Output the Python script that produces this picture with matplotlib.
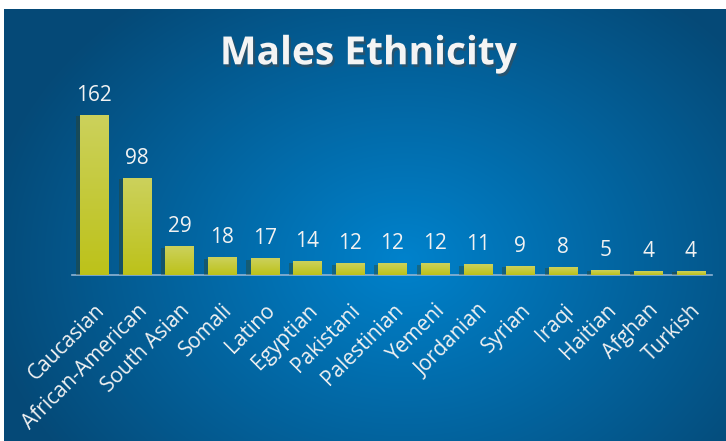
import numpy as np
import matplotlib.pyplot as plt
import matplotlib.patheffects as pe

categories = ["Caucasian", "African-American", "South Asian", "Somali", "Latino",
              "Egyptian", "Pakistani", "Palestinian", "Yemeni", "Jordanian",
              "Syrian", "Iraqi", "Haitian", "Afghan", "Turkish"]
counts = [162, 98, 29, 18, 17, 14, 12, 12, 12, 11, 9, 8, 5, 4, 4]

plt.rcParams['font.family'] = ['Open Sans', 'DejaVu Sans']

fig = plt.figure(figsize=(7.26, 4.41), dpi=100)
fig.patch.set_facecolor("white")

# radial blue background
bg = fig.add_axes([4 / 726, 0, 722 / 726, 432 / 441])
bg.set_axis_off()
yy, xx = np.mgrid[0:432, 0:722]
r = np.sqrt(((xx - 400) / 420) ** 2 + ((yy - 250) / 330) ** 2)
r = np.clip(r, 0, 1)
c_in = np.array([0.0, 0.51, 0.80])
c_out = np.array([0.02, 0.29, 0.47])
img = c_in[None, None, :] * (1 - r[..., None]) + c_out[None, None, :] * r[..., None]
bg.imshow(img, aspect="auto", extent=[0, 1, 0, 1])
bg.set_xlim(0, 1)
bg.set_ylim(0, 1)

ax = fig.add_axes([72 / 726, 166 / 441, 640 / 726, 178 / 441])
ax.patch.set_alpha(0)
x = np.arange(len(categories))
bars = ax.bar(x, counts, width=0.66, color="#c5cb2b", zorder=3)

# vertical gradient inside bars
grad = np.linspace(0, 1, 100)[:, None]
top = np.array([0.80, 0.82, 0.36])
bot = np.array([0.74, 0.76, 0.10])
gimg = top[None, None, :] * grad[..., None] + bot[None, None, :] * (1 - grad[..., None])
for b in bars:
    b.set_path_effects([pe.SimplePatchShadow(offset=(-3, -1), alpha=0.35), pe.Normal()])
    im = ax.imshow(gimg, extent=[b.get_x(), b.get_x() + b.get_width(), 0, b.get_height()],
                   aspect="auto", origin="lower", zorder=4)
    im.set_clip_path(b)

for xi, v in zip(x, counts):
    ax.text(xi, v + 9, str(v), ha="center", va="bottom", color="#f2f2f2", fontsize=15)

ax.set_xlim(-0.52, 14.5)
ax.set_ylim(0, 180)
for s in ["top", "right", "left"]:
    ax.spines[s].set_visible(False)
ax.spines["bottom"].set_color("#8fb3d3")
ax.spines["bottom"].set_linewidth(1.2)
ax.set_yticks([])
ax.set_xticks(x)
ax.set_xticklabels(categories, rotation=45, ha="right", rotation_mode="anchor",
                   color="#f2f2f2", fontsize=15)
ax.tick_params(axis="x", length=0, pad=18)

fig.text(0.507, 0.878, "Males Ethnicity", ha="center", va="center", color="#f4f4f4",
         fontsize=28, fontweight="bold",
         path_effects=[pe.SimplePatchShadow(offset=(1.5, -2), alpha=0.5), pe.Normal()])

fig.savefig("out.png", dpi=100, facecolor=fig.get_facecolor())
